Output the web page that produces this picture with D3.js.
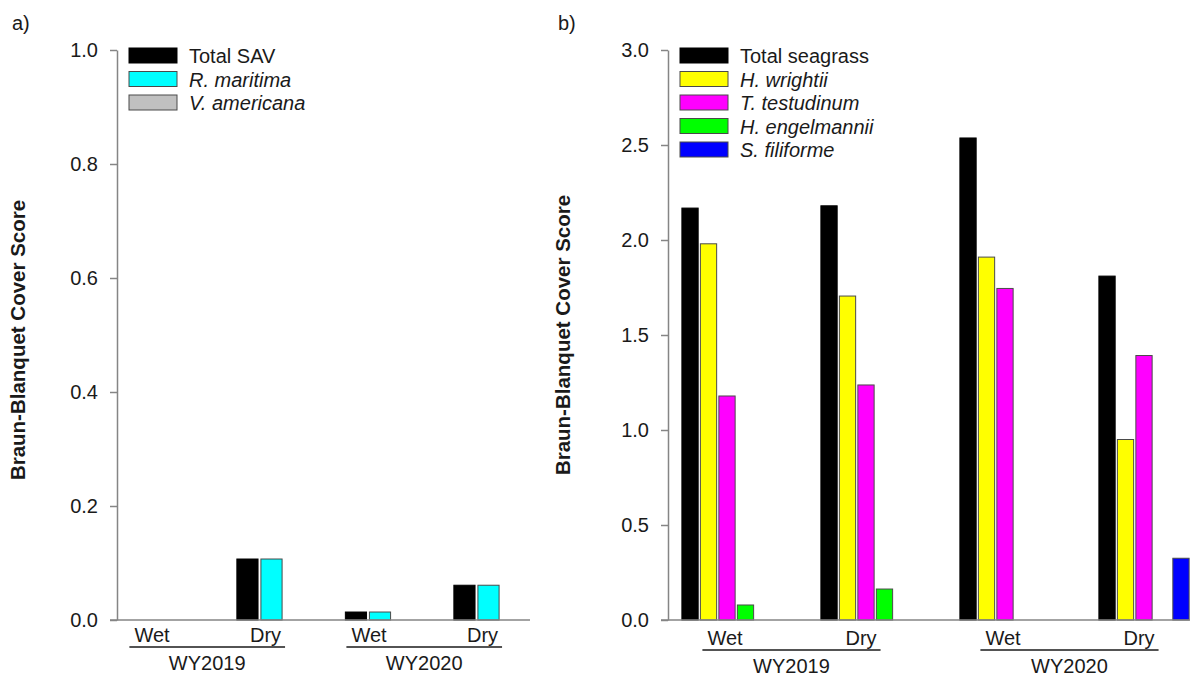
<!DOCTYPE html>
<html>
<head>
<meta charset="utf-8">
<script src="https://cdn.jsdelivr.net/npm/d3@7"></script>
<style>
  body { margin: 0; background: #fff; }
  svg text { font-family: "Liberation Sans", Arial, sans-serif; fill: #1a1a1a; }
</style>
</head>
<body>
<svg id="chart" width="1190" height="677"></svg>
<script>
// ---------- DATA ----------
const seasons = ["Wet", "Dry", "Wet", "Dry"];
const years = ["WY2019", "WY2020"];
const groupKeys = ["WY2019 Wet", "WY2019 Dry", "WY2020 Wet", "WY2020 Dry"];

// Panel a
const seriesA = ["Total SAV", "R. maritima", "V. americana"];
const colorsA = ["#000000", "#00ffff", "#c0c0c0"];
const italicA = [false, true, true];
const totalSAV   = [0, 0.107, 0.014, 0.061];
const rMaritima  = [0, 0.107, 0.014, 0.061];
const vAmericana = [0, 0, 0, 0];
const valuesA = [totalSAV, rMaritima, vAmericana];
const ticksA = [0, 0.2, 0.4, 0.6, 0.8, 1.0];

// Panel b
const seriesB = ["Total seagrass", "H. wrightii", "T. testudinum", "H. engelmannii", "S. filiforme"];
const colorsB = ["#000000", "#ffff00", "#ff00ff", "#00ff00", "#0000ff"];
const italicB = [false, true, true, true, true];
const totalSeagrass = [2.168, 2.18, 2.537, 1.81];
const hWrightii     = [1.98, 1.705, 1.91, 0.95];
const tTestudinum   = [1.179, 1.237, 1.745, 1.392];
const hEngelmannii  = [0.079, 0.163, 0, 0];
const sFiliforme    = [0, 0, 0, 0.325];
const valuesB = [totalSeagrass, hWrightii, tTestudinum, hEngelmannii, sFiliforme];
const ticksB = [0, 0.5, 1.0, 1.5, 2.0, 2.5, 3.0];

// ---------- DRAW ----------
const svg = d3.select("#chart");
const AXIS = "#858585";

function panel(cfg) {
  const g = svg.append("g");
  const y = d3.scaleLinear().domain(cfg.ydomain).range([620, 50]);
  const x = d3.scaleBand().domain(groupKeys).range(cfg.xrange)
    .paddingInner(0.335).paddingOuter(0.1675);
  const xi = d3.scaleBand().domain(cfg.series).range([0, x.bandwidth()])
    .paddingInner(0.12).paddingOuter(0.06);

  // bars
  cfg.series.forEach((s, si) => {
    g.selectAll(null).data(cfg.values[si].map((v, i) => ({v, i}))).enter()
      .filter(d => d.v > 0)
      .append("rect")
      .attr("x", d => x(groupKeys[d.i]) + xi(s))
      .attr("width", xi.bandwidth())
      .attr("y", d => y(d.v))
      .attr("height", d => y(0) - y(d.v))
      .attr("fill", cfg.colors[si])
      .attr("stroke", si === 0 ? "#000" : "#4a4a4a")
      .attr("stroke-width", 1);
  });

  // y axis
  const ax = g.append("g").attr("transform", `translate(${cfg.axisX},0)`)
    .call(d3.axisLeft(y).tickValues(cfg.ticks).tickFormat(d3.format(".1f"))
      .tickSize(7).tickSizeOuter(0).tickPadding(12));
  ax.selectAll("path, line").attr("stroke", AXIS).attr("stroke-width", 1.5);
  ax.selectAll("text").attr("font-size", 20).attr("fill", "#1a1a1a")
    .style("font-family", '"Liberation Sans", Arial, sans-serif');

  // x axis line
  g.append("line").attr("x1", cfg.axisX - 7).attr("x2", cfg.xEnd)
    .attr("y1", y(0)).attr("y2", y(0)).attr("stroke", AXIS).attr("stroke-width", 1.5);

  // season labels
  const labs = [];
  seasons.forEach((s, i) => {
    const cx = x(groupKeys[i]) + x.bandwidth() / 2 + cfg.labelOffset[s];
    const t = g.append("text").attr("x", cx).attr("y", y(0) + cfg.labelDy)
      .attr("text-anchor", "middle").attr("font-size", 20).text(s);
    labs.push({cx, w: t.node().getComputedTextLength()});
  });
  // year underlines + labels
  years.forEach((yr, k) => {
    const a = labs[2 * k], b = labs[2 * k + 1];
    const x1 = a.cx - a.w / 2 - 5, x2 = b.cx + b.w / 2 + 4;
    g.append("line").attr("x1", x1).attr("x2", x2)
      .attr("y1", y(0) + cfg.labelDy + 5).attr("y2", y(0) + cfg.labelDy + 5)
      .attr("stroke", "#1a1a1a").attr("stroke-width", 1.6);
    g.append("text").attr("x", (x1 + x2) / 2).attr("y", y(0) + cfg.labelDy + 28)
      .attr("text-anchor", "middle").attr("font-size", 20).text(yr);
  });

  // y title
  g.append("text")
    .attr("transform", `translate(${cfg.titleX},${cfg.titleY}) rotate(-90)`)
    .attr("text-anchor", "middle").attr("font-size", 20.5).attr("font-weight", "bold")
    .text("Braun-Blanquet Cover Score");

  // panel letter
  g.append("text").attr("x", cfg.letterX).attr("y", 30).attr("font-size", 20).text(cfg.letter);

  // legend
  cfg.series.forEach((s, si) => {
    const ly = 48 + si * 23.5;
    g.append("rect").attr("x", cfg.legX).attr("y", ly).attr("width", 48).attr("height", 15)
      .attr("fill", cfg.colors[si]).attr("stroke", si === 0 ? "#000" : "#4a4a4a").attr("stroke-width", 1);
    g.append("text").attr("x", cfg.legX + 60).attr("y", ly + 15).attr("font-size", 20)
      .attr("font-style", cfg.italic[si] ? "italic" : "normal").text(s);
  });
}

panel({
  ydomain: [0, 1], ticks: ticksA, series: seriesA, colors: colorsA, italic: italicA, values: valuesA,
  xrange: [108.75, 542.75], axisX: 117, xEnd: 530,
  labelOffset: {Wet: -11, Dry: -6}, labelDy: 22,
  titleX: 25, titleY: 340, letter: "a)", letterX: 12, legX: 129
});
panel({
  ydomain: [0, 3], ticks: ticksB, series: seriesB, colors: colorsB, italic: italicB, values: valuesB,
  xrange: [657.5, 1213.5], axisX: 668, xEnd: 1190,
  labelOffset: {Wet: -2, Dry: -5}, labelDy: 25,
  titleX: 570, titleY: 335, letter: "b)", letterX: 558, legX: 680
});
</script>
</body>
</html>
